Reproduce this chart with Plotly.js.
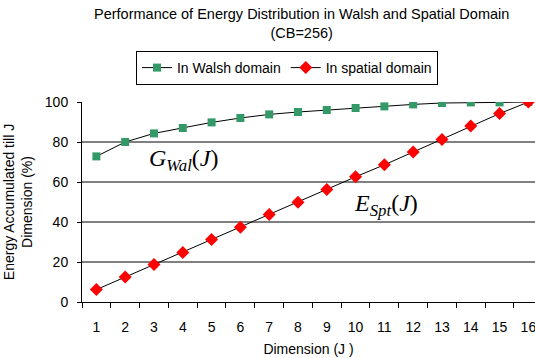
<!DOCTYPE html>
<html><head><meta charset="utf-8">
<script src="https://cdn.plot.ly/plotly-3.0.1.min.js"></script>
<style>html,body{margin:0;padding:0;background:#fff}#chart{width:535px;height:358px}</style>
</head><body><div id="chart"></div>
<script>
const dims = [1,2,3,4,5,6,7,8,9,10,11,12,13,14,15,16];
const walsh = [72.8,80.0,84.3,87.0,89.8,92.0,93.8,95.0,96.0,97.0,97.8,98.8,99.5,99.8,99.8,100];
const spatial = [6.2,12.5,18.7,24.7,31.2,37.4,43.7,49.9,56.3,62.6,68.6,75.0,81.3,88.0,94.2,100];
const yTicks = [0,20,40,60,80,100];

const traces = [
  {x: dims, y: walsh, name: 'In Walsh domain', mode: 'lines+markers',
   line: {color: '#000', width: 1},
   marker: {symbol: 'square', size: 8, color: '#339966'}},
  {x: dims, y: spatial, name: 'In spatial domain', mode: 'lines+markers',
   line: {color: '#000', width: 1},
   marker: {symbol: 'diamond', size: 10, color: '#ff0000'}}
];
const ff = 'Liberation Sans, Arial, sans-serif';
const font = {family: ff, size: 14, color: '#000'};
const layout = {
  width: 535, height: 358,
  margin: {l: 82, r: 0, t: 102, b: 56},
  paper_bgcolor: '#fff', plot_bgcolor: '#fff',
  font: font,
  showlegend: true,
  legend: {orientation: 'h', x: 0.4525, xanchor: 'center', y: 1.255, yanchor: 'top',
    bordercolor: '#000', borderwidth: 1, bgcolor: '#fff',
    font: {family: ff, size: 14, color: '#000'},
    itemwidth: 30, tracegroupgap: 0},
  xaxis: {range: [0.5, 16.23], tickvals: dims, ticktext: dims.map(String),
    ticks: '', showgrid: false, showline: true, linecolor: '#000', linewidth: 1,
    zeroline: false, ticklabelstandoff: 12, ticklabeloverflow: 'allow',
    tickfont: {family: ff, size: 14, color: '#000'},
    minor: {tickmode: 'linear', tick0: 0.5, dtick: 1, ticks: 'outside', ticklen: 5, tickcolor: '#000', showgrid: false},
    title: {text: 'Dimension (J )', font: font, standoff: 10}},
  yaxis: {range: [0, 100], tickvals: yTicks, showgrid: true, gridcolor: '#808080', gridwidth: 1.5,
    showline: true, linecolor: '#000', linewidth: 1, zeroline: false,
    ticks: 'outside', ticklen: 4, tickcolor: '#000',
    ticklabelstandoff: 6, tickfont: {family: ff, size: 14, color: '#000'},
    title: {text: 'Energy Accumulated till J<br>Dimension (%)', font: font, standoff: 8}},
  annotations: [
    {x: 0.485, y: 1.49, xref: 'paper', yref: 'paper', xanchor: 'center', yanchor: 'top', showarrow: false,
     text: 'Performance of Energy Distribution in Walsh and Spatial Domain<br>(CB=256)',
     font: {family: ff, size: 14.5, color: '#000'}},
    {x: 4.05, y: 71, xref: 'x', yref: 'y', showarrow: false,
     text: '<i>G</i><sub><i>Wal</i></sub>(<i>J</i>)',
     font: {family: 'Liberation Serif, Times New Roman, serif', size: 24, color: '#000'}},
    {x: 11.05, y: 48.5, xref: 'x', yref: 'y', showarrow: false,
     text: '<i>E</i><sub><i>Spt</i></sub>(<i>J</i>)',
     font: {family: 'Liberation Serif, Times New Roman, serif', size: 24, color: '#000'}}
  ]
};
Plotly.newPlot('chart', traces, layout, {displayModeBar: false, staticPlot: true});
</script></body></html>
